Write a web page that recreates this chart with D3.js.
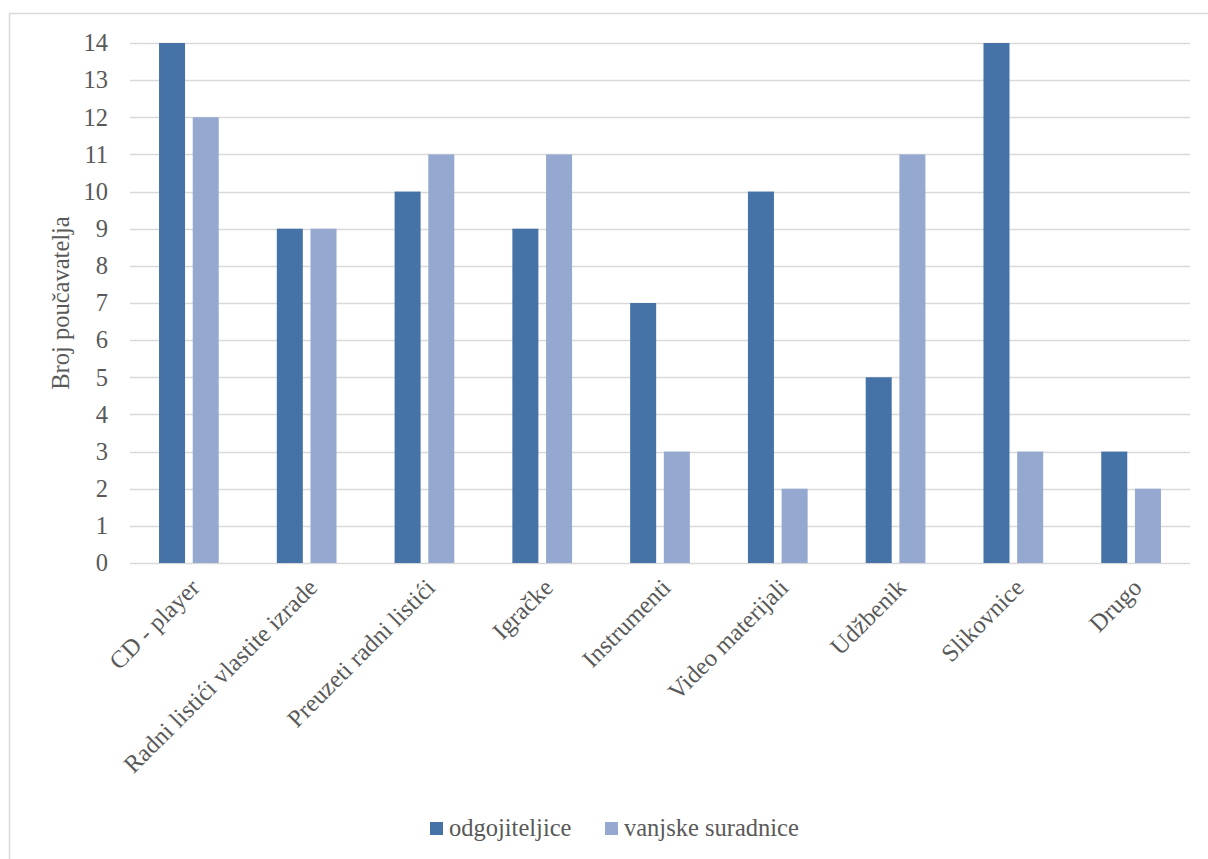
<!DOCTYPE html>
<html>
<head>
<meta charset="utf-8">
<script src="https://cdn.jsdelivr.net/npm/d3@7"></script>
<style>
  body { margin: 0; background: #fff; }
  text { font-family: "Liberation Serif", serif; fill: #595959; }
</style>
</head>
<body>
<div class="chart"></div>
<script>
// chart data
const categories = ['CD - player', 'Radni listići vlastite izrade', 'Preuzeti radni listići', 'Igračke',
  'Instrumenti', 'Video materijali', 'Udžbenik', 'Slikovnice', 'Drugo'];
const seriesNames = ['odgojiteljice', 'vanjske suradnice'];
const odgojiteljice = [14, 9, 10, 9, 7, 10, 5, 14, 3];
const vanjske = [12, 9, 11, 11, 3, 2, 11, 3, 2];
const yTicks = [0, 1, 2, 3, 4, 5, 6, 7, 8, 9, 10, 11, 12, 13, 14];
const colors = ['#4572a7', '#95a9d0'];

const W = 1208, H = 859;
const plot = {left: 130, right: 1190, top: 43, bottom: 563};
const fontSize = 24.5;

const svg = d3.select('.chart')
  .append('svg')
  .attr('width', W)
  .attr('height', H);

// outer chart border (runs off the right / bottom edge like the original)
svg.append('rect')
  .attr('x', 9.5).attr('y', 13.5)
  .attr('width', 1230).attr('height', 880)
  .attr('fill', 'none')
  .attr('stroke', '#d9d9d9')
  .attr('stroke-width', 1.5);

const y = d3.scaleLinear().domain([0, 14]).range([plot.bottom, plot.top]);
const x0 = d3.scaleBand().domain(categories).range([plot.left, plot.right]);
const groupW = 59.7;
const x1 = d3.scaleBand()
  .domain(seriesNames)
  .range([x0.bandwidth() / 2 - groupW / 2, x0.bandwidth() / 2 + groupW / 2])
  .paddingInner(0.228);

// gridlines
svg.append('g')
  .selectAll('line')
  .data(yTicks)
  .join('line')
  .attr('x1', plot.left).attr('x2', plot.right)
  .attr('y1', d => Math.round(y(d)) + 0.5)
  .attr('y2', d => Math.round(y(d)) + 0.5)
  .attr('stroke', '#d9d9d9')
  .attr('stroke-width', 1.5);

// y axis tick labels
const yAxis = d3.axisLeft(y).tickValues(yTicks).tickSize(0).tickPadding(22);
const gy = svg.append('g')
  .attr('transform', `translate(${plot.left}, 0)`)
  .call(yAxis);
gy.select('.domain').remove();
gy.selectAll('text')
  .attr('font-family', '"Liberation Serif", serif')
  .attr('font-size', fontSize)
  .attr('fill', '#595959');

// bars
const rows = categories.map((c, i) => ({cat: c, vals: [odgojiteljice[i], vanjske[i]]}));
svg.append('g')
  .selectAll('g')
  .data(rows)
  .join('g')
  .attr('transform', d => `translate(${x0(d.cat)}, 0)`)
  .selectAll('rect')
  .data(d => d.vals.map((v, k) => ({name: seriesNames[k], v: v, k: k})))
  .join('rect')
  .attr('x', d => x1(d.name))
  .attr('y', d => y(d.v))
  .attr('width', x1.bandwidth())
  .attr('height', d => y(0) - y(d.v))
  .attr('fill', d => colors[d.k]);

// x axis category labels
const xAxis = d3.axisBottom(x0).tickSize(0).tickPadding(0);
const gx = svg.append('g')
  .attr('transform', `translate(0, ${plot.bottom})`)
  .call(xAxis);
gx.select('.domain').remove();
gx.selectAll('text')
  .attr('font-family', '"Liberation Serif", serif')
  .attr('font-size', fontSize)
  .attr('fill', '#595959')
  .style('text-anchor', 'end')
  .attr('dy', '0.7em')
  .attr('transform', 'translate(0, 14) rotate(-45)');

// y axis title
svg.append('text')
  .attr('transform', `translate(69, ${(plot.top + plot.bottom) / 2}) rotate(-90)`)
  .attr('text-anchor', 'middle')
  .attr('font-size', fontSize)
  .text('Broj poučavatelja');

// legend
const legendX = [430, 605];
const legend = svg.append('g')
  .selectAll('g')
  .data(seriesNames)
  .join('g')
  .attr('transform', (d, i) => `translate(${legendX[i]}, 822)`);
legend.append('rect')
  .attr('width', 13).attr('height', 13)
  .attr('fill', (d, i) => colors[i]);
legend.append('text')
  .attr('x', 19).attr('y', 14)
  .attr('font-size', fontSize)
  .text(d => d);
</script>
</body>
</html>
